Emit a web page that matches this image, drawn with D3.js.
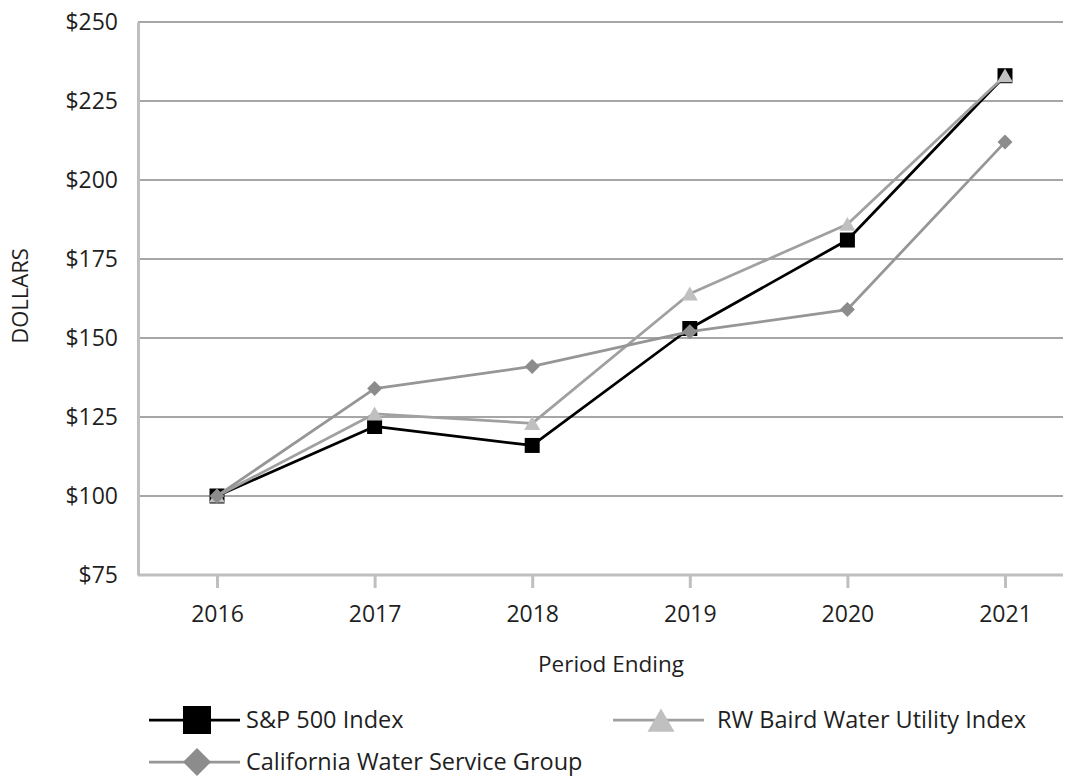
<!DOCTYPE html>
<html>
<head>
<meta charset="utf-8">
<script src="https://cdn.jsdelivr.net/npm/d3@7"></script>
<style>
    body { margin: 0; background: #ffffff; }
    text { font-family: "Open Sans", "Noto Sans", sans-serif; fill: #1f1f1f; }
</style>
</head>
<body>
<script>
// chart data
const years = ['2016', '2017', '2018', '2019', '2020', '2021'];
const sp500 = [100, 122, 116, 153, 181, 233];
const rwBaird = [100, 126, 123, 164, 186, 233];
const calWater = [100, 134, 141, 152, 159, 212];
const yTicks = [75, 100, 125, 150, 175, 200, 225, 250];
const seriesNames = ['S&P 500 Index', 'RW Baird Water Utility Index', 'California Water Service Group'];

const width = 1074, height = 777;
const plot = {left: 138, right: 1063, top: 22, bottom: 575};

const svg = d3.select('body')
    .append('svg')
    .attr('width', width)
    .attr('height', height);

// scales
const x = d3.scalePoint()
    .domain(years)
    .range([217, 1005]);
const y = d3.scaleLinear()
    .domain([75, 250])
    .range([plot.bottom, plot.top]);

// horizontal gridlines
svg.append('g')
    .selectAll('line')
    .data(yTicks.slice(1))
    .join('line')
    .attr('x1', plot.left)
    .attr('x2', plot.right)
    .attr('y1', d => y(d))
    .attr('y2', d => y(d))
    .attr('stroke', '#a6a6a6')
    .attr('stroke-width', 2);

// y axis
const yAxis = svg.append('g')
    .attr('transform', `translate(${plot.left},0)`)
    .call(d3.axisLeft(y).tickValues(yTicks).tickSize(0).tickPadding(20).tickFormat(d => `$${d}`));
yAxis.select('.domain').attr('stroke', '#bfbfbf').attr('stroke-width', 3);
yAxis.selectAll('text')
    .style('font-size', '23px')
    .style('font-family', '"Open Sans", sans-serif')
    .attr('fill', '#1f1f1f');

// x axis
const xAxis = svg.append('g')
    .attr('transform', `translate(0,${plot.bottom})`)
    .call(d3.axisBottom(x).tickSize(13).tickPadding(18));
xAxis.select('.domain')
    .attr('d', `M${plot.left},0H${plot.right}`)
    .attr('stroke', '#bfbfbf')
    .attr('stroke-width', 3);
xAxis.selectAll('.tick line').attr('stroke', '#bfbfbf').attr('stroke-width', 3);
xAxis.selectAll('text')
    .style('font-size', '23px')
    .style('font-family', '"Open Sans", sans-serif')
    .attr('fill', '#1f1f1f');

// axis titles
svg.append('text')
    .attr('x', 611)
    .attr('y', 672)
    .attr('text-anchor', 'middle')
    .style('font-size', '22.5px')
    .text('Period Ending');
svg.append('text')
    .attr('transform', 'translate(28,296) rotate(-90)')
    .attr('text-anchor', 'middle')
    .style('font-size', '22px')
    .text('DOLLARS');

// marker shapes (s = overall width)
const squareSym = s => d3.symbol(d3.symbolSquare, s * s)();
const triangleSym = s => d3.symbol(d3.symbolTriangle, s * s * 0.433)();
const diamondSym = s => d3.symbol(d3.symbolSquare, s * s / 2)();

const series = [
    {name: seriesNames[0], values: sp500, line: '#000000', fill: '#000000', shape: squareSym, rot: 0, size: 15, dy: 0},
    {name: seriesNames[1], values: rwBaird, line: '#a0a0a0', fill: '#c0c0c0', shape: triangleSym, rot: 0, size: 16, dy: 2},
    {name: seriesNames[2], values: calWater, line: '#969696', fill: '#8c8c8c', shape: diamondSym, rot: 45, size: 15, dy: 0}
];

const line = d3.line()
    .x((d, i) => x(years[i]))
    .y(d => y(d));

// lines and markers
series.forEach(s => {
    const g = svg.append('g');
    g.append('path')
        .attr('d', line(s.values))
        .attr('fill', 'none')
        .attr('stroke', s.line)
        .attr('stroke-width', 2.75)
        .attr('stroke-linejoin', 'round');
    g.selectAll('path.marker')
        .data(s.values)
        .join('path')
        .attr('class', 'marker')
        .attr('d', s.shape(s.size))
        .attr('transform', (d, i) => `translate(${x(years[i])},${y(d) + s.dy}) rotate(${s.rot})`)
        .attr('fill', s.fill);
});

// legend
const legendPos = [
    {x: 149, y: 720, tx: 97, size: 28, dy: 0},
    {x: 613, y: 720, tx: 104, size: 27, dy: 4},
    {x: 149, y: 762, tx: 97, size: 28, dy: 0}
];
series.forEach((s, i) => {
    const p = legendPos[i];
    const g = svg.append('g').attr('transform', `translate(${p.x},${p.y})`);
    g.append('line')
        .attr('x1', 0).attr('x2', 91)
        .attr('stroke', s.line)
        .attr('stroke-width', 2.75);
    g.append('path')
        .attr('d', s.shape(p.size))
        .attr('transform', `translate(48,${p.dy}) rotate(${s.rot})`)
        .attr('fill', s.fill);
    g.append('text')
        .attr('x', p.tx)
        .attr('dy', '0.36em')
        .style('font-size', '23.5px')
        .text(s.name);
});
</script>
</body>
</html>
